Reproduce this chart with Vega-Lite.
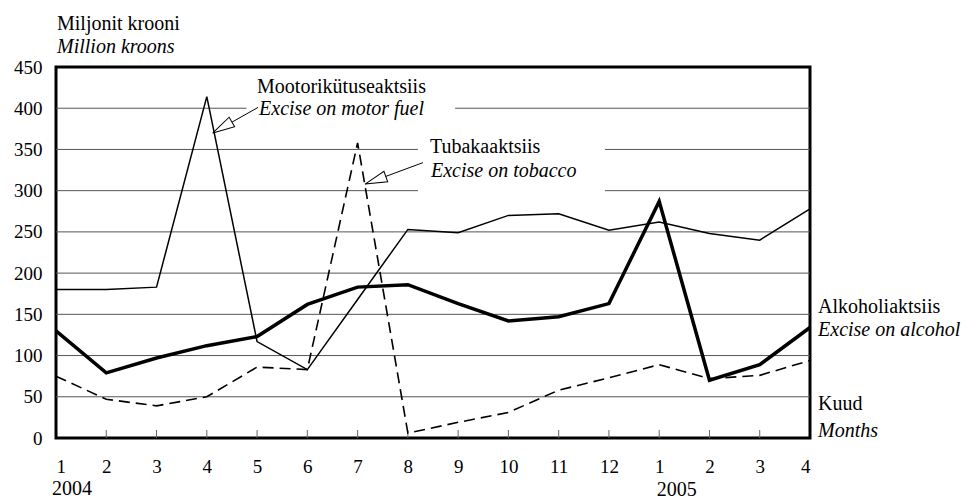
{
  "$schema": "https://vega.github.io/schema/vega-lite/v6.json",
  "width": 754,
  "height": 371,
  "autosize": "none",
  "padding": {"left": 56, "top": 67, "right": 167, "bottom": 61},
  "background": "white",
  "config": {
    "view": {"stroke": "black", "strokeWidth": 3},
    "font": "Liberation Serif"
  },
  "datasets": {
    "series": [
      {"m": 1, "s": "motor", "v": 180}, {"m": 2, "s": "motor", "v": 180}, {"m": 3, "s": "motor", "v": 183},
      {"m": 4, "s": "motor", "v": 414}, {"m": 5, "s": "motor", "v": 117}, {"m": 6, "s": "motor", "v": 83},
      {"m": 7, "s": "motor", "v": 168}, {"m": 8, "s": "motor", "v": 253}, {"m": 9, "s": "motor", "v": 249},
      {"m": 10, "s": "motor", "v": 270}, {"m": 11, "s": "motor", "v": 272}, {"m": 12, "s": "motor", "v": 252},
      {"m": 13, "s": "motor", "v": 262}, {"m": 14, "s": "motor", "v": 248}, {"m": 15, "s": "motor", "v": 240},
      {"m": 16, "s": "motor", "v": 278},
      {"m": 1, "s": "tobacco", "v": 75}, {"m": 2, "s": "tobacco", "v": 47}, {"m": 3, "s": "tobacco", "v": 39},
      {"m": 4, "s": "tobacco", "v": 50}, {"m": 5, "s": "tobacco", "v": 86}, {"m": 6, "s": "tobacco", "v": 83},
      {"m": 7, "s": "tobacco", "v": 358}, {"m": 8, "s": "tobacco", "v": 6}, {"m": 9, "s": "tobacco", "v": 19},
      {"m": 10, "s": "tobacco", "v": 31}, {"m": 11, "s": "tobacco", "v": 58}, {"m": 12, "s": "tobacco", "v": 73},
      {"m": 13, "s": "tobacco", "v": 89}, {"m": 14, "s": "tobacco", "v": 72}, {"m": 15, "s": "tobacco", "v": 76},
      {"m": 16, "s": "tobacco", "v": 94},
      {"m": 1, "s": "alcohol", "v": 130}, {"m": 2, "s": "alcohol", "v": 79}, {"m": 3, "s": "alcohol", "v": 97},
      {"m": 4, "s": "alcohol", "v": 112}, {"m": 5, "s": "alcohol", "v": 123}, {"m": 6, "s": "alcohol", "v": 162},
      {"m": 7, "s": "alcohol", "v": 183}, {"m": 8, "s": "alcohol", "v": 186}, {"m": 9, "s": "alcohol", "v": 163},
      {"m": 10, "s": "alcohol", "v": 142}, {"m": 11, "s": "alcohol", "v": 147}, {"m": 12, "s": "alcohol", "v": 163},
      {"m": 13, "s": "alcohol", "v": 287}, {"m": 14, "s": "alcohol", "v": 70}, {"m": 15, "s": "alcohol", "v": 89},
      {"m": 16, "s": "alcohol", "v": 134}
    ],
    "grid": [
      {"v": 50, "a": 1, "b": 16}, {"v": 100, "a": 1, "b": 16}, {"v": 150, "a": 1, "b": 16},
      {"v": 200, "a": 1, "b": 16}, {"v": 250, "a": 1, "b": 16},
      {"v": 300, "a": 1, "b": 8.2}, {"v": 300, "a": 11.92, "b": 16},
      {"v": 350, "a": 1, "b": 8.2}, {"v": 350, "a": 11.92, "b": 16},
      {"v": 400, "a": 1, "b": 4.79}, {"v": 400, "a": 8.94, "b": 16}
    ],
    "months": [
      {"m": 2}, {"m": 3}, {"m": 4}, {"m": 5}, {"m": 6}, {"m": 7}, {"m": 8}, {"m": 9},
      {"m": 10}, {"m": 11}, {"m": 12}, {"m": 13}, {"m": 14}, {"m": 15}
    ],
    "plain": [
      {"t": "Mootorikütuseaktsiis", "x": 5.0, "y": 418},
      {"t": "Tubakaaktsiis", "x": 8.44, "y": 346},
      {"t": "Alkoholiaktsiis", "x": 16.16, "y": 152},
      {"t": "Kuud", "x": 16.16, "y": 34},
      {"t": "Miljonit krooni", "x": 1.02, "y": 495},
      {"t": "2004", "x": 0.92, "y": -69}
    ],
    "ital": [
      {"t": "Excise on motor fuel", "x": 5.04, "y": 392},
      {"t": "Excise on tobacco", "x": 8.46, "y": 317},
      {"t": "Excise on alcohol", "x": 16.16, "y": 124},
      {"t": "Months", "x": 16.16, "y": 1.5},
      {"t": "Million kroons", "x": 1.02, "y": 467}
    ],
    "arrows": [
      {"x1": 5.02, "y1": 401, "x2": 4.12, "y2": 370, "ang": 240},
      {"x1": 8.3, "y1": 334, "x2": 7.15, "y2": 308, "ang": 250}
    ]
  },
  "layer": [
    {
      "data": {"name": "grid"},
      "mark": {"type": "rule", "stroke": "#555", "strokeWidth": 1},
      "encoding": {
        "x": {"field": "a", "type": "quantitative", "scale": {"domain": [1, 16], "zero": false, "nice": false},
          "axis": {"values": [1,2,3,4,5,6,7,8,9,10,11,12,13,14,15,16], "labelExpr": "datum.value <= 12 ? datum.value : datum.value - 12",
            "title": null, "grid": false, "domain": false, "ticks": false,
            "labelFontSize": 19, "labelColor": "black", "labelPadding": 19, "labelFont": "Liberation Serif"}},
        "x2": {"field": "b"},
        "y": {"field": "v", "type": "quantitative", "scale": {"domain": [0, 450], "nice": false},
          "axis": {"values": [0,50,100,150,200,250,300,350,400,450], "title": null, "grid": false, "domain": false,
            "ticks": false, "labelFontSize": 19, "labelColor": "black", "labelPadding": 14, "labelFont": "Liberation Serif"}}
      }
    },
    {
      "data": {"name": "months"},
      "mark": {"type": "rule", "stroke": "#666", "strokeWidth": 1},
      "encoding": {
        "x": {"field": "m", "type": "quantitative"},
        "y": {"datum": 0, "type": "quantitative"},
        "y2": {"datum": 9.7}
      }
    },
    {
      "data": {"name": "series"},
      "transform": [{"filter": "datum.s === 'motor'"}],
      "mark": {"type": "line", "stroke": "black", "strokeWidth": 1.5},
      "encoding": {
        "x": {"field": "m", "type": "quantitative", "scale": {"domain": [1, 16], "zero": false, "nice": false}},
        "y": {"field": "v", "type": "quantitative", "scale": {"domain": [0, 450], "nice": false}}
      }
    },
    {
      "data": {"name": "series"},
      "transform": [{"filter": "datum.s === 'tobacco'"}],
      "mark": {"type": "line", "stroke": "black", "strokeWidth": 1.6, "strokeDash": [11, 6]},
      "encoding": {
        "x": {"field": "m", "type": "quantitative", "scale": {"domain": [1, 16], "zero": false, "nice": false}},
        "y": {"field": "v", "type": "quantitative", "scale": {"domain": [0, 450], "nice": false}}
      }
    },
    {
      "data": {"name": "series"},
      "transform": [{"filter": "datum.s === 'alcohol'"}],
      "mark": {"type": "line", "stroke": "black", "strokeWidth": 3.5},
      "encoding": {
        "x": {"field": "m", "type": "quantitative", "scale": {"domain": [1, 16], "zero": false, "nice": false}},
        "y": {"field": "v", "type": "quantitative", "scale": {"domain": [0, 450], "nice": false}}
      }
    },
    {
      "data": {"name": "arrows"},
      "mark": {"type": "rule", "stroke": "black", "strokeWidth": 1},
      "encoding": {
        "x": {"field": "x1", "type": "quantitative"},
        "y": {"field": "y1", "type": "quantitative"},
        "x2": {"field": "x2"},
        "y2": {"field": "y2"}
      }
    },
    {
      "data": {"name": "arrows"},
      "mark": {"type": "point", "filled": true, "fill": "white", "stroke": "black", "strokeWidth": 1, "opacity": 1, "size": 400,
        "shape": "M0,0L0.55,2.2L-0.55,2.2Z"},
      "encoding": {
        "x": {"field": "x2", "type": "quantitative"},
        "y": {"field": "y2", "type": "quantitative"},
        "angle": {"field": "ang", "type": "quantitative", "scale": null}
      }
    },
    {
      "data": {"name": "plain"},
      "mark": {"type": "text", "font": "Liberation Serif", "fontSize": 20, "color": "black", "align": "left", "baseline": "alphabetic"},
      "encoding": {
        "x": {"field": "x", "type": "quantitative"},
        "y": {"field": "y", "type": "quantitative"},
        "text": {"field": "t"}
      }
    },
    {
      "data": {"name": "ital"},
      "mark": {"type": "text", "font": "Liberation Serif", "fontSize": 20, "color": "black", "align": "left", "baseline": "alphabetic", "fontStyle": "italic"},
      "encoding": {
        "x": {"field": "x", "type": "quantitative"},
        "y": {"field": "y", "type": "quantitative"},
        "text": {"field": "t"}
      }
    },
    {
      "data": {"values": [{"t": "2005", "x": 13.35, "y": -70.5}]},
      "mark": {"type": "text", "font": "Liberation Serif", "fontSize": 20, "color": "black", "align": "center", "baseline": "alphabetic"},
      "encoding": {
        "x": {"field": "x", "type": "quantitative"},
        "y": {"field": "y", "type": "quantitative"},
        "text": {"field": "t"}
      }
    }
  ]
}
